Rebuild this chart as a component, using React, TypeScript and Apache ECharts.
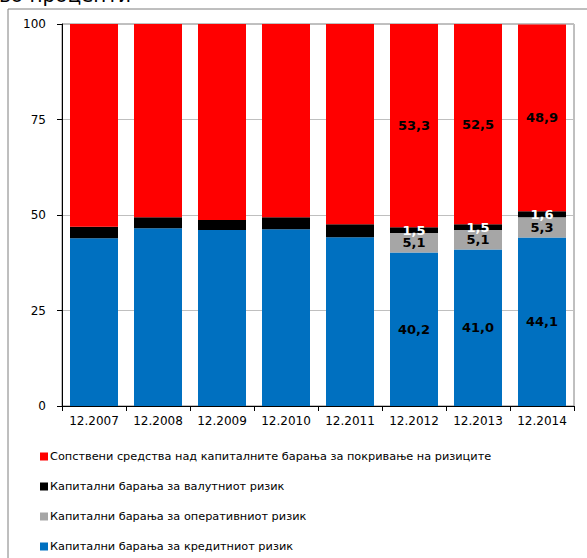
import React, { useEffect, useRef } from "react";
import * as echarts from "echarts";

const categories = ["12.2007", "12.2008", "12.2009", "12.2010", "12.2011", "12.2012", "12.2013", "12.2014"];
const creditRisk = [43.9, 46.5, 46.1, 46.3, 44.2, 40.2, 41.0, 44.1];
const operationalRisk = [0, 0, 0, 0, 0, 5.1, 5.1, 5.3];
const currencyRisk = [3.0, 2.9, 2.6, 3.1, 3.4, 1.5, 1.5, 1.6];
const ownFundsAbove = [53.1, 50.6, 51.3, 50.6, 52.4, 53.3, 52.5, 48.9];
const labelled = [false, false, false, false, false, true, true, true];
const yTicks = [0, 25, 50, 75, 100];

const seriesNames = {
  red: "Сопствени средства над капиталните барања за покривање на ризиците",
  black: "Капитални барања за валутниот ризик",
  grey: "Капитални барања за оперативниот ризик",
  blue: "Капитални барања за кредитниот ризик",
};

const FONT = "DejaVu Sans";

export default function App() {
  const ref = useRef<HTMLDivElement>(null);
  useEffect(() => {
    if (!ref.current) return;
    const chart = echarts.init(ref.current, null, { renderer: "svg" });
    const fmt = (p: any) => (labelled[p.dataIndex] ? Number(p.value).toFixed(1).replace(".", ",") : "");
    const mkLabel = (color: string) => ({
      show: true,
      position: "inside",
      formatter: fmt,
      color,
      fontFamily: FONT,
      fontWeight: "bold",
      fontSize: 13,
    });
    const barBase = {
      type: "bar",
      stack: "total",
      barWidth: "75%",
    };
    chart.setOption({
      animation: false,
      textStyle: { fontFamily: FONT },
      title: {
        text: "во проценти",
        left: -1,
        top: -15,
        padding: 0,
        textStyle: { fontFamily: FONT, fontSize: 20, fontWeight: "normal", color: "#000" },
      },
      grid: {
        left: 62,
        right: 13,
        top: 24,
        bottom: 152,
        show: true,
        borderColor: "#808080",
        borderWidth: 1,
      },
      legend: {
        orient: "vertical",
        left: 35,
        top: 446,
        itemWidth: 8,
        itemHeight: 8,
        itemGap: 19,
        icon: "rect",
        textStyle: { fontFamily: FONT, fontSize: 11.3, color: "#000", padding: [0, 0, 0, -3] },
        data: [seriesNames.red, seriesNames.black, seriesNames.grey, seriesNames.blue],
      },
      xAxis: {
        type: "category",
        data: categories,
        axisLine: { lineStyle: { color: "#000", width: 1 } },
        axisTick: { show: true, length: 5, lineStyle: { color: "#000" } },
        axisLabel: { color: "#000", fontFamily: FONT, fontSize: 12, margin: 9, interval: 0 },
      },
      yAxis: {
        type: "value",
        min: yTicks[0],
        max: yTicks[yTicks.length - 1],
        interval: 25,
        axisLine: { show: true, lineStyle: { color: "#000", width: 1 } },
        axisTick: { show: true, length: 5, lineStyle: { color: "#000" } },
        axisLabel: { color: "#000", fontFamily: FONT, fontSize: 12, margin: 16 },
        splitLine: { show: true, lineStyle: { color: "#bfbfbf", width: 1 } },
      },
      graphic: [
        {
          type: "rect",
          shape: { x: 8, y: 9, width: 700, height: 700 },
          style: { fill: "none", stroke: "#7f7f7f", lineWidth: 1 },
          silent: true,
          z: -10,
        },
      ],
      series: [
        { ...barBase, name: seriesNames.blue, data: creditRisk, itemStyle: { color: "#0070C0" }, label: mkLabel("#000") },
        { ...barBase, name: seriesNames.grey, data: operationalRisk, itemStyle: { color: "#A6A6A6" }, label: mkLabel("#000") },
        { ...barBase, name: seriesNames.black, data: currencyRisk, itemStyle: { color: "#000000" }, label: mkLabel("#fff") },
        { ...barBase, name: seriesNames.red, data: ownFundsAbove, itemStyle: { color: "#FF0000" }, label: mkLabel("#000") },
      ],
    });
    return () => chart.dispose();
  }, []);
  return (
    <div style={{ position: "fixed", left: 0, top: 0, width: 587, height: 558, background: "#fff", overflow: "hidden" }}>
      <div ref={ref} style={{ width: 587, height: 558 }} />
    </div>
  );
}
